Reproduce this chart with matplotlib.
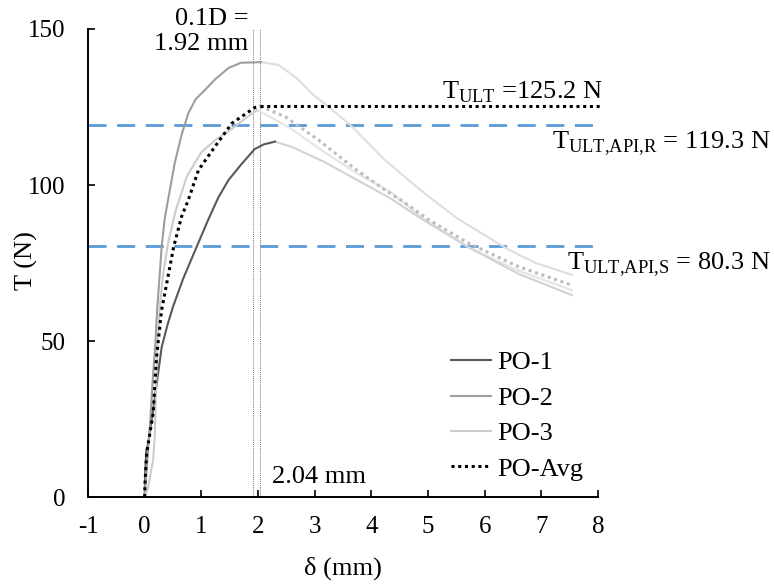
import matplotlib
matplotlib.use("Agg")
import matplotlib.pyplot as plt

plt.rcParams["font.family"] = ["Liberation Serif", "DejaVu Serif"]
plt.rcParams["mathtext.fontset"] = "custom"
plt.rcParams["mathtext.rm"] = "Liberation Serif"
plt.rcParams["axes.unicode_minus"] = False

# pull-out tests: load T (N) vs displacement delta (mm)
# rising part (drawn in the series colour) up to each peak
po1_x = [0, 0.01, 0.03, 0.06, 0.10, 0.15, 0.21, 0.30, 0.40, 0.50, 0.68, 0.92, 1.12, 1.30, 1.48, 1.70, 1.94, 2.10, 2.30]
po1_y = [0, 8, 15, 17, 22, 28, 36, 48, 55, 61, 70, 80.3, 88.8, 96, 101.6, 106.5, 111.5, 113, 113.9]
po2_x = [0, 0.02, 0.06, 0.10, 0.14, 0.19, 0.22, 0.26, 0.30, 0.35, 0.42, 0.53, 0.65, 0.77, 0.90, 1.06, 1.25, 1.48, 1.70, 1.95, 2.05]
po2_y = [0, 5, 15, 25, 37, 49.4, 60, 70, 80.2, 88.8, 96, 107, 116, 123, 127.5, 130.4, 134, 137.5, 139.2, 139.3, 139.4]
po3_x = [0, 0.06, 0.10, 0.15, 0.18, 0.20, 0.23, 0.27, 0.33, 0.42, 0.55, 0.75, 1.00, 1.25, 1.54, 1.75, 1.98]
po3_y = [0, 3, 7, 12, 20, 35, 50, 62, 72, 82, 92, 103, 110.5, 114.5, 118, 121, 124]
avg_x = [0, 0.006, 0.035, 0.15, 0.21, 0.30, 0.51, 0.65, 0.77, 0.95, 1.24, 1.54, 1.95, 2.04]
avg_y = [0, 4.5, 14, 26.9, 45, 60, 80, 89.8, 95.2, 104.8, 112.3, 119.8, 124.9, 125.2]

# post-peak (softening) part, drawn faded
po1_fx = [2.30, 2.60, 3.16, 3.75, 4.33, 4.90, 5.72, 6.60, 7.54]
po1_fy = [113.9, 112.2, 107.5, 101.6, 95.8, 89, 80, 71.5, 64.7]
po2_fx = [2.05, 2.36, 2.70, 2.98, 3.25, 3.66, 4.24, 4.72, 5.07, 5.50, 5.95, 6.40, 6.90, 7.54]
po2_fy = [139.4, 138.5, 134, 128.8, 125, 118.7, 108, 100.6, 95.5, 89.5, 84.5, 79.5, 75, 71.2]
po3_fx = [1.98, 2.20, 2.57, 3.16, 3.75, 4.33, 4.90, 5.72, 6.60, 7.54]
po3_fy = [124, 122, 118.2, 110.7, 103.7, 97.9, 89.5, 80, 72.5, 66.3]
avg_fx = [2.04, 2.48, 3.07, 3.66, 4.24, 4.57, 5.00, 5.72, 6.60, 7.54]
avg_fy = [125.2, 121.9, 114.4, 105.9, 98.4, 94.6, 89, 81.3, 73.8, 67.9]

T_ULT = 125.2
T_API_R = 119.3
T_API_S = 80.3
D_01 = 1.92
D_PEAK = 2.04

fig = plt.figure(figsize=(7.74, 5.87), dpi=100)
ax = fig.add_axes([0.1137, 0.1533, 0.6589, 0.7973])

blue = "#5b9bd5"
ax.axvline(D_01, 0, 1, color="#777777", lw=0.7, ls=(0, (1, 1)))
ax.axvline(D_PEAK, 0, 1, color="#777777", lw=0.7, ls=(0, (1, 1)))
ax.hlines([T_API_R, T_API_S], -1, 8, colors=blue, lw=2, linestyles=[(0, (6.5, 3.8))], clip_on=False)

ax.plot(po2_fx, po2_fy, color="#dedede", lw=1.5)
ax.plot(po3_fx, po3_fy, color="#e4e4e4", lw=1.5)
ax.plot(po1_fx, po1_fy, color="#d2d2d2", lw=1.5)
ax.plot(avg_fx, avg_fy, color="#bdbdbd", lw=2.2, ls=(0, (1, 1.2)))

ax.plot(po1_x, po1_y, color="#595959", lw=1.5, label="PO-1")
ax.plot(po2_x, po2_y, color="#9e9e9e", lw=1.5, label="PO-2")
ax.plot(po3_x, po3_y, color="#cccccc", lw=1.5, label="PO-3")
ax.plot(avg_x, avg_y, color="black", lw=2.2, ls=(0, (1, 1.2)), label="PO-Avg")
ax.hlines(T_ULT, D_PEAK, 8.05, colors="black", lw=2.2, linestyles=[(0, (1, 1.2))], clip_on=False)

ax.set_xlim(-1, 8)
ax.set_ylim(0, 150)
ax.set_xticks(range(-1, 9))
ax.set_yticks([0, 50, 100, 150])
for s in ["top", "right"]:
    ax.spines[s].set_visible(False)
for s in ["left", "bottom"]:
    ax.spines[s].set_linewidth(1.4)
ax.tick_params(axis="both", direction="in", length=5, width=1.2, labelsize=18)
ax.tick_params(axis="x", pad=14)
ax.tick_params(axis="y", pad=16)

ax.set_xlabel("δ (mm)", fontsize=19)
ax.xaxis.set_label_coords(0.499, -0.152)
ax.xaxis.label.set_va("center")
ax.set_ylabel("T (N)", fontsize=19)
ax.yaxis.set_label_coords(-0.121, 0.506)
ax.yaxis.label.set_va("center")

fs = 19
ax.text(1.83, 149.2, "0.1D =\n1.92 mm", ha="right", va="center", multialignment="right",
        fontsize=fs, clip_on=False)
ax.text(2.24, 6.5, "2.04 mm", ha="left", va="center", fontsize=fs)
ax.text(8.08, 129.8, r"T$_{\mathrm{ULT}}$ =125.2 N", ha="right", va="center", fontsize=fs, clip_on=False)
ax.text(11.05, 113.3, r"T$_{\mathrm{ULT{,}API{,}R}}$ = 119.3 N", ha="right", va="center", fontsize=fs, clip_on=False)
ax.text(11.05, 74.4, r"T$_{\mathrm{ULT{,}API{,}S}}$ = 80.3 N", ha="right", va="center", fontsize=fs, clip_on=False)

ax.legend(loc="upper left", bbox_to_anchor=(0.712, 0.312), frameon=False, fontsize=fs,
          handlelength=1.5, handletextpad=0.25, labelspacing=0.45, borderpad=0, borderaxespad=0)

fig.savefig("out.png", dpi=100)
